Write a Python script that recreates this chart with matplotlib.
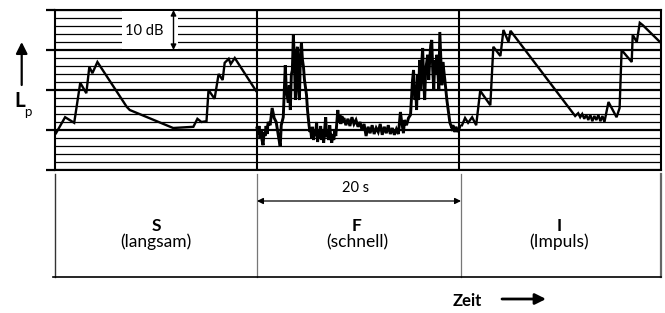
import matplotlib
matplotlib.use("Agg")
import matplotlib.pyplot as plt
from matplotlib.patches import Rectangle

plt.rcParams['font.family'] = ['Lato', 'DejaVu Sans']

# ---- data: time (s) and level (dB) ----
slow_t = [0.1, 1.0, 1.9, 2.5, 3.1, 3.4, 3.7, 4.2, 7.1, 7.4, 11.7, 13.7, 14.1, 14.5, 15.0,
          15.2, 15.8, 16.2, 16.6, 16.8, 17.2, 17.4, 17.8, 19.9]
slow_db = [49.2, 53.2, 51.8, 61.8, 59.2, 65.8, 64.2, 67.0, 55.8, 55.0, 50.5, 50.8, 52.8, 52.0, 52.2,
           60.0, 57.8, 64.0, 62.5, 66.8, 67.8, 66.5, 68.0, 59.8]

fast_t = [20.0, 20.1, 20.2, 20.3, 20.4, 20.5, 20.6, 20.7, 20.8, 20.9, 21.0, 21.1, 21.3, 21.5, 21.7,
          21.9, 22.1, 22.3, 22.4, 22.6, 22.8, 22.9, 23.1, 23.2, 23.3, 23.4, 23.5, 23.6, 23.7, 23.8,
          23.9, 24.0, 24.1, 24.2, 24.3, 24.4, 24.5, 24.6, 24.7, 24.9, 25.0, 25.15, 25.25,
          25.3, 25.4, 25.5, 25.6, 25.7, 25.8, 25.9, 26.0, 26.1, 26.2, 26.3, 26.4, 26.5, 26.6, 26.7,
          26.8, 26.9, 27.0, 27.1, 27.2, 27.3, 27.4, 27.5, 27.6, 27.7, 27.8, 28.0, 28.1, 28.2, 28.3,
          28.4, 28.5, 28.6, 28.8, 29.0, 29.2, 29.4, 29.6, 29.8, 30.0, 30.2, 30.4, 30.6, 30.8, 31.0,
          31.2, 31.4, 31.6, 31.8, 32.0, 32.2, 32.4, 32.6, 32.8, 33.0, 33.2, 33.4, 33.6, 33.8, 34.0,
          34.2, 34.3, 34.5, 34.6, 34.8, 35.0, 35.2, 35.4, 35.5, 35.6, 35.65, 35.7, 35.8, 35.9, 36.0,
          36.1, 36.2, 36.3, 36.4, 36.5, 36.6, 36.7, 36.9, 37.0, 37.1, 37.2, 37.3, 37.4, 37.5, 37.6,
          37.7, 37.8, 37.9, 38.0, 38.1, 38.2, 38.3, 38.4, 38.6, 38.8, 39.0, 39.1, 39.3, 39.4, 39.6,
          39.7, 39.9, 40.1]
fast_db = [50.5, 48.8, 51.0, 48.0, 50.0, 47.5, 46.2, 49.5, 48.5, 51.0, 49.0, 52.0, 51.2, 55.5, 53.0,
           52.0, 48.8, 45.8, 51.2, 53.2, 66.2, 60.0, 56.8, 61.2, 55.0, 63.8, 65.0, 73.8, 67.5, 57.5,
           68.8, 70.8, 60.0, 57.5, 68.8, 71.8, 67.5, 65.8, 62.5, 58.8, 55.0, 51.2, 49.5,
           50.5, 48.0, 50.8, 47.5, 50.0, 48.5, 52.0, 47.0, 49.5, 48.0, 51.0, 47.5, 49.8, 46.8, 50.2,
           53.2, 48.2, 49.2, 47.5, 51.2, 48.2, 46.8, 49.0, 47.5, 50.0, 48.5, 55.0, 52.0, 53.8, 51.5,
           53.5, 52.0, 53.0, 51.2, 52.8, 51.0, 53.2, 51.5, 52.5, 50.8, 52.0, 50.0, 51.5, 48.5, 50.8,
           49.2, 51.2, 49.0, 50.5, 49.5, 51.5, 48.8, 50.8, 49.2, 51.2, 49.0, 50.5, 48.8, 50.2, 49.0,
           54.5, 52.5, 49.2, 52.5, 51.2, 53.0, 53.8, 62.5, 65.0, 60.0, 57.5, 61.2, 55.0, 63.8, 57.5,
           67.5, 60.0, 66.2, 70.5, 62.5, 57.5, 65.0, 68.8, 62.5, 67.5, 71.2, 72.5, 65.0, 60.0, 67.5,
           63.8, 68.8, 65.0, 60.0, 74.5, 67.5, 61.2, 67.0, 62.5, 57.5, 53.8, 51.8, 50.5, 51.2, 49.5,
           50.8, 49.5, 51.0]

imp_t = [40.3, 40.6, 40.9, 41.3, 41.7, 42.1, 43.1, 43.4, 44.1, 44.4, 44.9, 45.1, 51.5, 51.8,
         52.0, 52.2, 52.4, 52.6, 52.8, 53.0, 53.2, 53.4, 53.6, 53.8, 54.0, 54.2, 54.4, 54.8,
         55.6, 55.9, 56.1, 57.1, 57.2, 57.6, 57.9, 58.2, 59.9]
imp_db = [51.2, 53.0, 51.8, 53.2, 51.2, 59.8, 56.2, 70.8, 68.5, 75.0, 72.0, 74.8, 53.5, 54.2,
          53.2, 54.0, 52.8, 53.8, 52.5, 53.8, 52.2, 53.5, 52.5, 53.8, 52.2, 53.5, 52.0, 57.0,
          53.2, 55.5, 70.0, 67.0, 73.8, 72.0, 76.8, 76.2, 72.0]

modes = ["S", "F", "I"]
mode_names = ["(langsam)", "(schnell)", "(Impuls)"]
section_len = 20
db_min, db_max, db_step = 40, 80, 2

W, H = 665, 313
fig = plt.figure(figsize=(W / 100, H / 100), dpi=100)

# data axes: pixel box 55..661 x 10..170
L, R, T, B = 55, 661, 10, 170
ax = fig.add_axes([L / W, 1 - B / H, (R - L) / W, (B - T) / H])
ax.set_xlim(0, 3 * section_len)
ax.set_ylim(db_min, db_max)

for lvl in range(db_min, db_max + 1, db_step):
    thick = (lvl % 10 == 0)
    ax.axhline(lvl, color='black', lw=1.6 if thick else 0.9, zorder=1)
for k in range(1, 3):
    ax.axvline(k * section_len, color='black', lw=1.5, zorder=1)

for t, d, w in [(slow_t, slow_db, 1.7), (fast_t, fast_db, 2.1), (imp_t, imp_db, 1.7)]:
    ax.plot(t, d, color='black', lw=w, zorder=3, solid_joinstyle='miter')

for s in ax.spines.values():
    s.set_linewidth(1.5)
ax.set_xticks([])
ax.set_yticks(range(db_min, db_max + 1, 10))
ax.set_yticklabels([])
ax.tick_params(axis='y', length=6.5, width=1.6, direction='out')

# overlay in pixel coordinates for decorations
ov = fig.add_axes([0, 0, 1, 1], facecolor='none')
ov.set_xlim(0, W)
ov.set_ylim(H, 0)
ov.axis('off')

# 10 dB label box
ov.add_patch(Rectangle((122, 11.2), 56, 37.6, facecolor='white', edgecolor='none', zorder=2))
ov.text(144, 31, "10 dB", ha='center', va='center', fontsize=10.5)
ov.annotate("", xy=(173.5, 10), xytext=(173.5, 50),
            arrowprops=dict(arrowstyle='<|-|>', color='black', lw=1.0,
                            mutation_scale=8, shrinkA=0, shrinkB=0))

# lower box
ov.plot([55, 55], [174, 277], color='#333333', lw=1.0)
for x in (257, 461):
    ov.plot([x, x], [174, 277], color='#777777', lw=0.9)
ov.plot([661, 661], [174, 277], color='#666666', lw=1.6)
ov.plot([53, 661], [277, 277], color='black', lw=1.2)

# 20 s arrow
ov.annotate("", xy=(257, 201), xytext=(461, 201),
            arrowprops=dict(arrowstyle='<|-|>', color='black', lw=0.9,
                            mutation_scale=9, shrinkA=0, shrinkB=0))
ov.text(356, 188, "20 s", ha='center', va='center', fontsize=10.5)

centers = [156, 357, 559]
for c, m, n in zip(centers, modes, mode_names):
    ov.text(c, 226, m, ha='center', va='center', fontsize=12.5, fontweight='bold')
    ov.text(c, 242, n, ha='center', va='center', fontsize=12.5)

# Zeit arrow
ov.text(467, 301, "Zeit", ha='center', va='center', fontsize=12, fontweight='bold')
ov.annotate("", xy=(546, 299), xytext=(502, 299),
            arrowprops=dict(arrowstyle='-|>', color='black', lw=2.0,
                            mutation_scale=16, shrinkA=0, shrinkB=0))

# Lp arrow and label
ov.annotate("", xy=(21.7, 42), xytext=(21.7, 85),
            arrowprops=dict(arrowstyle='-|>', color='black', lw=1.6,
                            mutation_scale=17, shrinkA=0, shrinkB=0))
ov.text(20, 101, "L", ha='center', va='center', fontsize=15, fontweight='bold')
ov.text(28, 112, "p", ha='center', va='center', fontsize=9.5)

fig.savefig("out.png", dpi=100)
